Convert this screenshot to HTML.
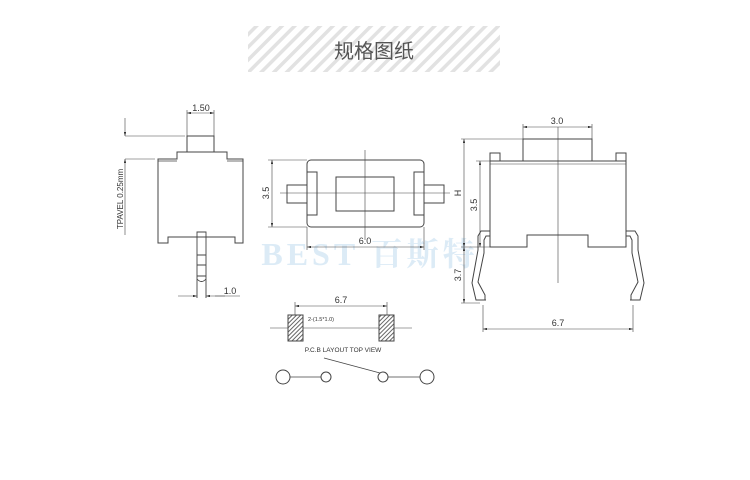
<!DOCTYPE html>
<html><head><meta charset="utf-8"><style>
html,body{margin:0;padding:0;background:#fff;}
svg{display:block;}
text{font-family:"Liberation Sans",sans-serif;fill:#333;}
</style></head><body>
<svg width="750" height="480" viewBox="0 0 750 480" xmlns="http://www.w3.org/2000/svg">
<defs>
<pattern id="hb" patternUnits="userSpaceOnUse" width="9" height="9" patternTransform="rotate(45)">
<rect width="9" height="9" fill="#fff"/><rect width="3.5" height="9" fill="#e2e2e2"/></pattern>
<pattern id="hp" patternUnits="userSpaceOnUse" width="3" height="3" patternTransform="rotate(45)">
<rect width="3" height="3" fill="#fff"/><rect width="1" height="3" fill="#666"/></pattern>
<marker id="a" viewBox="0 0 10 6" refX="10" refY="3" markerWidth="8" markerHeight="4" orient="auto-start-reverse"><path d="M0,0L10,3L0,6z" fill="#333"/></marker>
</defs>
<rect x="248" y="26" width="252" height="46" fill="url(#hb)"/>
<text x="374" y="58" font-size="20" text-anchor="middle" style="font-family:'Liberation Sans','Noto Sans CJK SC',sans-serif;fill:#555">规格图纸</text>
<text x="370" y="265" font-size="32" font-weight="bold" text-anchor="middle" style="font-family:'Liberation Serif','Noto Serif CJK SC',serif;fill:#dcebf6;letter-spacing:4px">BEST 百斯特</text>
<g fill="none" stroke="#444" stroke-width="1">
<!-- left view -->
<rect x="187" y="136" width="27" height="16"/>
<path d="M158,243V159H177V152H227V159H243V243H235V237H168V243Z"/>
<path d="M158,161H177M227,161H243" stroke-width="0.7"/>
<path d="M197,298V232H206V298M197,255H206M197,265H206M197,276H206M197,279Q201.5,284 206,279" stroke-width="0.9"/>
<path d="M187,110V136M214,110V136" stroke-width="0.6"/>
<path d="M187,113H214" stroke-width="0.6" marker-start="url(#a)" marker-end="url(#a)"/>
<path d="M125,136H185M125,159H155" stroke-width="0.6"/>
<path d="M125,118V136" stroke-width="0.6" marker-end="url(#a)"/>
<path d="M125,159V235" stroke-width="0.6" marker-start="url(#a)"/>
<path d="M178,296H197" stroke-width="0.6" marker-end="url(#a)"/>
<path d="M225,296H206" stroke-width="0.6" marker-end="url(#a)"/>
<path d="M215,296H240" stroke-width="0.6"/>
<!-- top view -->
<rect x="307" y="160" width="117" height="67" rx="4"/>
<rect x="307" y="172" width="10" height="43"/>
<rect x="414" y="172" width="10" height="43"/>
<rect x="287" y="185" width="20" height="18"/>
<rect x="424" y="185" width="20" height="18"/>
<rect x="336" y="177" width="58" height="34"/>
<path d="M280,193H450M365,150V240" stroke-width="0.6"/>
<path d="M268,160H307M268,227H307M307,227V250M424,227V250" stroke-width="0.6"/>
<path d="M272,160V227" stroke-width="0.6" marker-start="url(#a)" marker-end="url(#a)"/>
<path d="M307,247H424" stroke-width="0.6" marker-start="url(#a)" marker-end="url(#a)"/>
<!-- PCB -->
<path d="M295,302V318M387,302V318" stroke-width="0.6"/>
<path d="M295,306H387" stroke-width="0.6" marker-start="url(#a)" marker-end="url(#a)"/>
<path d="M270,328H412" stroke-width="0.6"/>
<rect x="288" y="315" width="15" height="26" fill="url(#hp)"/>
<rect x="379" y="315" width="15" height="26" fill="url(#hp)"/>
<circle cx="283" cy="377" r="7"/><circle cx="326" cy="377" r="5"/>
<circle cx="383" cy="377" r="5"/><circle cx="427" cy="377" r="7"/>
<path d="M290,377H321M388,377H420M324,358L380,373" stroke-width="0.8"/>
<!-- right view -->
<rect x="523" y="139" width="69" height="22"/>
<rect x="490" y="153" width="10" height="8"/>
<rect x="616" y="153" width="10" height="8"/>
<path d="M490,161H626V247H588V235H527V247H490Z"/>
<path d="M490,164H626" stroke-width="0.6"/>
<path d="M558,127V283" stroke-width="0.6"/>
<path d="M523,124V139M592,124V139" stroke-width="0.6"/>
<path d="M523,127H592" stroke-width="0.6" marker-start="url(#a)" marker-end="url(#a)"/>
<path d="M490,231H481L478,236V250L472,283L476,300H486M490,236H486L484,240V253L478,282L485,295V300"/>
<path d="M626,231H635L638,236V250L644,283L640,300H630M626,236H630L632,240V253L638,282L631,295V300"/>
<path d="M461,139H523M461,247H490M461,303H480M476,161H490" stroke-width="0.6"/>
<path d="M464,139V247" stroke-width="0.6" marker-start="url(#a)" marker-end="url(#a)"/>
<path d="M464,247V303" stroke-width="0.6" marker-start="url(#a)" marker-end="url(#a)"/>
<path d="M480,161V247" stroke-width="0.6" marker-start="url(#a)" marker-end="url(#a)"/>
<path d="M483,305V332M633,305V332" stroke-width="0.6"/>
<path d="M483,329H633" stroke-width="0.6" marker-start="url(#a)" marker-end="url(#a)"/>
</g>
<g font-size="9">
<text x="201" y="111" text-anchor="middle">1.50</text>
<text x="230" y="294" text-anchor="middle">1.0</text>
<text transform="translate(123,199) rotate(-90)" text-anchor="middle" font-size="8">TPAVEL 0.25mm</text>
<text transform="translate(269,193) rotate(-90)" text-anchor="middle">3.5</text>
<text x="365" y="244" text-anchor="middle">6.0</text>
<text x="341" y="303" text-anchor="middle">6.7</text>
<text x="308" y="321" font-size="5.5">2-(1.5*1.0)</text>
<text x="343" y="352" text-anchor="middle" font-size="6.5">P.C.B LAYOUT TOP VIEW</text>
<text x="557" y="124" text-anchor="middle">3.0</text>
<text transform="translate(461,193) rotate(-90)" text-anchor="middle">H</text>
<text transform="translate(477,205) rotate(-90)" text-anchor="middle">3.5</text>
<text transform="translate(461,275) rotate(-90)" text-anchor="middle">3.7</text>
<text x="558" y="326" text-anchor="middle">6.7</text>
</g>
</svg>
</body></html>
